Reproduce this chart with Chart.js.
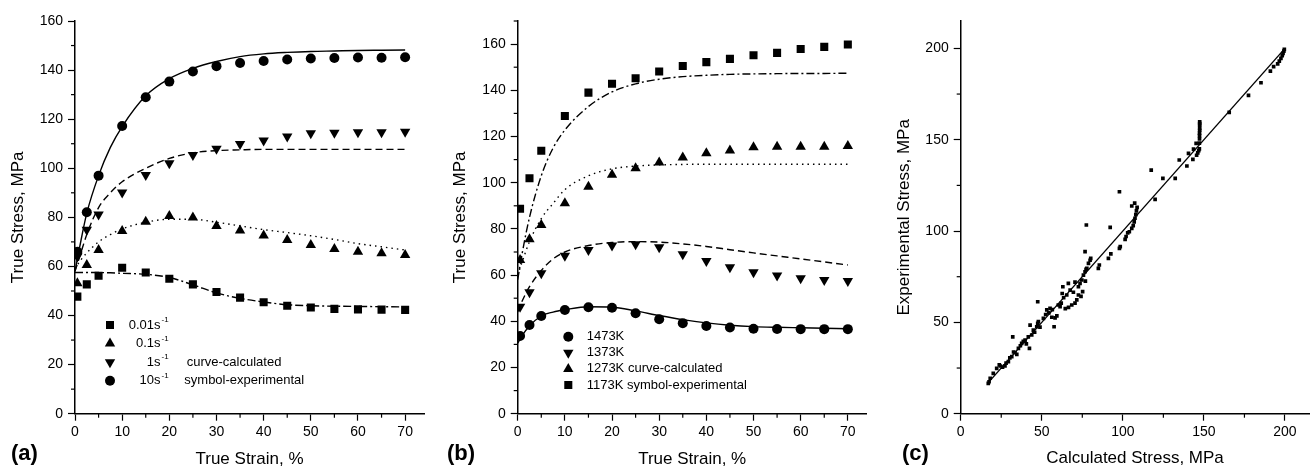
<!DOCTYPE html>
<html>
<head>
<meta charset="utf-8">
<script src="https://cdn.jsdelivr.net/npm/chart.js@4.4.0/dist/chart.umd.min.js"></script>
<style>
html, body { margin: 0; padding: 0; background: #fff; }
body { width: 1313px; height: 471px; position: relative; overflow: hidden; }
.panel { position: absolute; top: 0; height: 471px; }
.tag { position: absolute; top: 440px; font: bold 22px "Liberation Sans", Arial, sans-serif; color: #000; }
</style>
</head>
<body>
<div class="panel" style="left:0;width:437px"><canvas id="chartA"></canvas></div>
<div class="panel" style="left:437px;width:437px"><canvas id="chartB"></canvas></div>
<div class="panel" style="left:874px;width:439px"><canvas id="chartC"></canvas></div>
<div class="tag" style="left:11px">(a)</div>
<div class="tag" style="left:447px">(b)</div>
<div class="tag" style="left:902px">(c)</div>
<script>
// strain positions (%)
const curveStrain = [0, 1, 2.5, 5, 7.5, 10, 15, 20, 25, 30, 35, 40, 45, 50, 55, 60, 65, 70];
const expStrain = [0.5, 2.5, 5, 10, 15, 20, 25, 30, 35, 40, 45, 50, 55, 60, 65, 70];

// (a) strain rates
const rateLabels = ['0.01', '0.1', '1', '10'];
const exp001 = [47.7, 52.7, 56.2, 59.5, 57.5, 55, 52.7, 49.6, 47.3, 45.4, 44, 43.3, 42.7, 42.5, 42.4, 42.3];
const exp01 = [53.1, 60.6, 66.7, 74.4, 78.2, 80.6, 79.9, 76.5, 74.6, 72.6, 70.8, 68.7, 67.1, 66, 65.4, 64.7];
const exp1 = [64, 74.9, 81.2, 90.1, 97.3, 102, 105.4, 107.9, 109.9, 111.3, 112.9, 114.3, 114.5, 114.7, 114.7, 114.9];
const exp10 = [66, 82.1, 97, 117.2, 128.9, 135.3, 139.4, 141.6, 142.9, 143.7, 144.3, 144.7, 144.9, 145.1, 145, 145.2];
const calc001 = [57.5, 57.5, 57.5, 57.5, 57.4, 57.2, 56.8, 55.5, 52.5, 49.2, 47, 45.5, 44.4, 44, 43.8, 43.7, 43.6, 43.5];
const calc01 = [59, 62, 65.5, 70, 73, 75.3, 78, 79.2, 79.2, 78, 76.5, 75, 73.8, 72.5, 71, 69.3, 68, 66.7];
const calc1 = [58, 64, 73, 84, 90, 94.5, 100, 104, 106.3, 107.2, 107.5, 107.7, 107.7, 107.7, 107.7, 107.7, 107.7, 107.7];
const calc10 = [58, 68, 81.7, 97, 108.5, 117, 129.5, 136.5, 140.7, 143.5, 145.5, 146.6, 147.2, 147.6, 147.8, 148, 148.1, 148.2];

// (b) temperatures
const tempLabels = ['1473K', '1373K', '1273K curve-calculated', '1173K symbol-experimental'];
const exp1473 = [33.6, 38.4, 42.3, 44.9, 46.1, 45.9, 43.5, 40.9, 39.2, 38, 37.3, 36.8, 36.7, 36.6, 36.6, 36.6];
const exp1373 = [46.3, 52.6, 60.8, 68.4, 70.9, 72.8, 73.4, 72.1, 69, 66.1, 63.4, 61.2, 59.8, 58.6, 57.9, 57.5];
const exp1273 = [66.5, 75.5, 81.7, 91.1, 98.3, 103.4, 106.3, 108.7, 110.9, 112.8, 113.9, 115.4, 115.6, 115.6, 115.6, 115.9];
const exp1173 = [88.7, 101.9, 113.8, 128.9, 139, 142.8, 145.2, 148.1, 150.5, 152.2, 153.6, 155.2, 156.2, 157.9, 158.8, 159.8];
const calc1473 = [30.5, 34, 38, 42.3, 44, 45, 46.3, 46.1, 44.5, 42.5, 40.7, 39.3, 38.3, 37.7, 37.4, 37.2, 37, 36.8];
const calc1373 = [44, 49, 55, 62, 67, 70, 72.8, 74.1, 74.5, 74.3, 73.5, 72.4, 71, 69.6, 68.3, 67, 65.7, 64.4];
const calc1273 = [60, 66, 74.5, 84.5, 91, 97, 103, 106, 107.2, 107.7, 107.9, 108, 108, 108, 108, 108, 108, 108];
const calc1173 = [58, 70, 85, 103, 115, 122.8, 133, 139.3, 142.8, 144.8, 145.9, 146.5, 146.9, 147.1, 147.2, 147.3, 147.3, 147.4];

// (c) calculated vs experimental stress, MPa
const calcStress = [17, 17.5, 18.2, 20.1, 22.2, 23.8, 24.5, 25.8, 27.3, 28, 29.4, 30.3, 31.5, 32.1, 32.6, 33.5, 34.6, 35.6, 36.8, 37.6,
  38.6, 39.7, 40.5, 41.7, 42.4, 42.8, 43.8, 44.8, 45.6, 46.9, 47.5, 47.9, 47.5, 48.9, 51, 52.4, 53.1, 54.3, 55.1, 56.2,
  56.5, 57.6, 58.2, 59.3, 60.2, 61.3, 62, 62.6, 63, 63.5, 64.5, 65.4, 66.4, 66.5, 67.5, 68.5, 69.5, 70.5, 70.5, 71.6,
  72.6, 72.6, 73.6, 74.2, 74.7, 75.2, 75.7, 76.7, 76.9, 77.3, 77.8, 76.7, 78.8, 79.8, 80.2, 84.9, 85.5, 91.1, 92.6, 97.9,
  98.4, 101.4, 102, 103, 104, 105.5, 106.4, 107, 107.5, 108, 108.4, 108.8, 107.3, 105.5, 97.9, 92.2, 77.5, 117.5, 119.9, 124.7,
  132.3, 134.8, 139.5, 140.5, 143.2, 143.6, 145.2, 145.5, 146.2, 146.8, 147.2, 147.2, 147.3, 147.3, 147.3, 147.4, 147.4, 147.4, 147.4, 147.4,
  165.6, 177.5, 185.2, 191, 193, 195.5, 196.5, 197.5, 198.3, 198.8, 199.3, 199.6];
const expStress = [16.6, 17.5, 19.4, 22.1, 24.8, 26.7, 26.1, 25.5, 26.2, 27.7, 28.5, 30.6, 31.2, 42.1, 33.8, 33.4, 32.5, 35.8, 37.2, 38.5,
  39.6, 40.3, 38.2, 42.1, 35.8, 48.5, 43.1, 45.8, 44.6, 47.6, 49.5, 50.4, 61.3, 47.4, 52.2, 54.3, 56.8, 55.2, 57.7, 52.8,
  57, 47.6, 52.5, 53.6, 59.5, 58.6, 60.5, 65.8, 69.5, 63.5, 57.5, 65, 71.4, 58.2, 67.7, 59.5, 66.5, 60.5, 72, 62.3,
  65, 69.5, 71.4, 64.2, 73.2, 66.8, 75.9, 77.7, 72.6, 79, 79.6, 88.7, 82.3, 84, 85, 79.6, 81.4, 85, 87.5, 90.5,
  91.5, 95.4, 97, 99, 99.6, 101.5, 103, 105, 107, 109, 111, 113, 115.3, 113.7, 121.5, 102, 103.3, 133.4, 117.3, 128.8,
  128.8, 138.9, 135.6, 142.5, 139.2, 144.9, 148, 141.5, 142.8, 144, 145, 148.1, 150.5, 152.2, 153.6, 155.2, 156.2, 157.9, 158.8, 159.8,
  165, 174.3, 181.2, 187.6, 190, 191.5, 193, 194.5, 196, 197.3, 198.5, 199.5];
const fitRange = [17, 200];

const FONT = '"Liberation Sans", Arial, sans-serif';
const pairs = (xs, ys) => xs.map((x, i) => ({ x: x, y: ys[i] }));

function symbols(xs, ys, style, rot, r) {
  return {
    data: pairs(xs, ys), showLine: false, pointStyle: style, rotation: rot || 0,
    pointRadius: r, pointHoverRadius: r, pointBackgroundColor: '#000', pointBorderWidth: 0
  };
}
function curve(xs, ys, dash) {
  return {
    data: pairs(xs, ys), showLine: true, borderColor: '#000', borderWidth: 1.4,
    borderDash: dash, pointRadius: 0, cubicInterpolationMode: 'monotone'
  };
}
function axis(max, step, title, pad, fixed, isX) {
  return {
    type: 'linear', min: 0, max: max,
    border: { color: '#000', width: 1.5 },
    grid: { drawOnChartArea: false, tickLength: 7, tickColor: '#000', tickWidth: 1.2 },
    ticks: { stepSize: step, includeBounds: false, autoSkip: false, maxRotation: 0, color: '#000',
      font: { family: FONT, size: 14 }, padding: isX ? 3.5 : 5 },
    title: { display: true, text: title, color: '#000', font: { family: FONT, size: 17 },
      padding: isX ? { top: 0, bottom: pad } : { top: pad, bottom: 0 } },
    afterFit(s) { if (isX) s.height = fixed; else s.width = fixed; }
  };
}

// short ticks halfway between the labelled ones
const minorTicks = {
  id: 'minorTicks',
  afterDraw(chart, args, opts) {
    const ctx = chart.ctx;
    ctx.save();
    ctx.strokeStyle = '#000';
    ctx.lineWidth = 1.2;
    ['x', 'y'].forEach(id => {
      const s = chart.scales[id];
      const step = opts[id];
      for (let v = step; v <= s.max; v += 2 * step) {
        const p = s.getPixelForValue(v);
        ctx.beginPath();
        if (id === 'x') { ctx.moveTo(p, s.top); ctx.lineTo(p, s.top + 4); }
        else { ctx.moveTo(s.right - 4, p); ctx.lineTo(s.right, p); }
        ctx.stroke();
      }
    });
    ctx.restore();
  }
};

// in-plot legend with symbol, label, optional superscript and note
const panelLegend = {
  id: 'panelLegend',
  afterDraw(chart, args, opts) {
    if (!opts.items) return;
    const ctx = chart.ctx, a = chart.chartArea;
    ctx.save();
    ctx.fillStyle = '#000';
    ctx.textBaseline = 'middle';
    opts.items.forEach((it, i) => {
      const y = a.top + opts.y + i * opts.dy;
      Chart.helpers.drawPoint(ctx, { pointStyle: it.style, rotation: it.rot || 0, radius: it.r, borderWidth: 0 }, a.left + opts.x, y);
      ctx.font = '13px ' + FONT;
      if (opts.align === 'right') {
        ctx.textAlign = 'right';
        ctx.fillText(it.text, a.left + opts.textX, y);
        ctx.textAlign = 'left';
        ctx.font = '8px ' + FONT;
        ctx.fillText(it.sup, a.left + opts.textX + 1, y - 5);
      } else {
        ctx.textAlign = 'left';
        ctx.fillText(it.text, a.left + opts.textX, y);
      }
      if (it.note) {
        ctx.font = '13px ' + FONT;
        ctx.textAlign = 'left';
        ctx.fillText(it.note, a.left + it.noteX, y);
      }
    });
    ctx.restore();
  }
};

function makeChart(id, datasets, scales, pad, plugins) {
  return new Chart(document.getElementById(id), {
    type: 'scatter',
    data: { datasets: datasets },
    options: {
      responsive: true, maintainAspectRatio: false, animation: false,
      layout: { padding: pad },
      scales: scales,
      plugins: Object.assign({ legend: { display: false }, tooltip: { enabled: false } }, plugins)
    },
    plugins: [minorTicks, panelLegend]
  });
}

const DASH = [7, 4], DOT = [1.5, 4], DASHDOT = [8, 3, 2, 3];

makeChart('chartA', [
  curve(curveStrain, calc10, []),
  curve(curveStrain, calc1, DASH),
  curve(curveStrain, calc01, DOT),
  curve(curveStrain, calc001, DASHDOT),
  symbols(expStrain, exp001, 'rect', 0, 5.7),
  symbols(expStrain, exp01, 'triangle', 0, 6),
  symbols(expStrain, exp1, 'triangle', 180, 6),
  symbols(expStrain, exp10, 'circle', 0, 5)
], {
  x: axis(74, 10, 'True Strain, %', 1.3, 57.3, true),
  y: axis(160, 20, 'True Stress, MPa', 8.3, 75, false)
}, { left: 0, right: 13, top: 21, bottom: 0 }, {
  minorTicks: { x: 5, y: 10 },
  panelLegend: {
    x: 35, y: 304, dy: 18.6, textX: 85.5, align: 'right',
    items: [
      { style: 'rect', r: 5.7, text: rateLabels[0] + 's', sup: '-1' },
      { style: 'triangle', r: 6, text: rateLabels[1] + 's', sup: '-1' },
      { style: 'triangle', rot: 180, r: 6, text: rateLabels[2] + 's', sup: '-1', note: 'curve-calculated', noteX: 111.7 },
      { style: 'circle', r: 5, text: rateLabels[3] + 's', sup: '-1', note: 'symbol-experimental', noteX: 109.3 }
    ]
  }
});

makeChart('chartB', [
  curve(curveStrain, calc1473, []),
  curve(curveStrain, calc1373, DASH),
  curve(curveStrain, calc1273, DOT),
  curve(curveStrain, calc1173, DASHDOT),
  symbols(expStrain, exp1473, 'circle', 0, 5),
  symbols(expStrain, exp1373, 'triangle', 180, 6),
  symbols(expStrain, exp1273, 'triangle', 0, 6),
  symbols(expStrain, exp1173, 'rect', 0, 5.7)
], {
  x: axis(74, 10, 'True Strain, %', 1.3, 57.3, true),
  y: axis(170, 20, 'True Stress, MPa', 13.6, 80.7, false)
}, { left: 0, right: 7.3, top: 21, bottom: 0 }, {
  minorTicks: { x: 5, y: 10 },
  panelLegend: {
    x: 50.6, y: 315.7, dy: 16.1, textX: 69, align: 'left',
    items: [
      { style: 'circle', r: 5, text: tempLabels[0] },
      { style: 'triangle', rot: 180, r: 6, text: tempLabels[1] },
      { style: 'triangle', r: 6, text: tempLabels[2] },
      { style: 'rect', r: 5.7, text: tempLabels[3] }
    ]
  }
});

makeChart('chartC', [
  curve(fitRange, fitRange, []),
  symbols(calcStress, expStress, 'rect', 0, 2.6)
], {
  x: axis(215, 50, 'Calculated Stress, MPa', 2, 57.3, true),
  y: axis(215, 50, 'Experimental Stress, MPa', 20, 86.7, false)
}, { left: 0, right: 3.7, top: 21, bottom: 0 }, {
  minorTicks: { x: 25, y: 25 }
});
</script>
</body>
</html>
